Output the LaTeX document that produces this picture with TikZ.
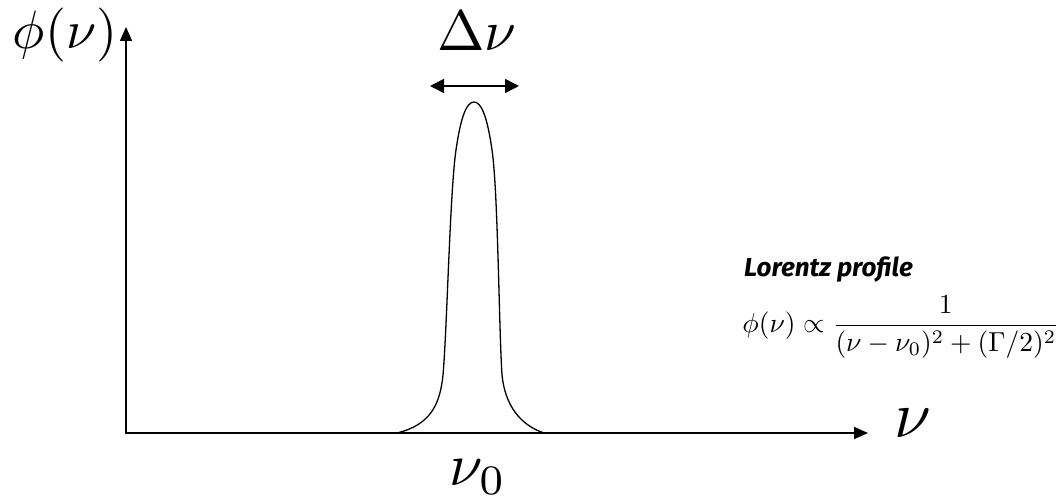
\documentclass[tikz,border=0pt]{standalone}
\usepackage{amsmath}
\usepackage{fontspec}
\newfontfamily\lorfont{Fira Sans}
\usetikzlibrary{arrows.meta}
\begin{document}
\begin{tikzpicture}[x=1pt,y=-1pt,
  axis/.style={line width=1.6pt,-{Triangle[length=14pt,width=12pt]}},
  curve/.style={line width=1.3pt},
  bigm/.style={inner sep=0pt,scale=6},
  formula/.style={inner sep=0pt,scale=2.75}]
\useasboundingbox (0,0) rectangle (1061,502);
\coordinate (O) at (126,433);
\coordinate (ytip) at (126,27);
\coordinate (xtip) at (868,433);
\draw[line width=1.6pt] (126,434) -- (O);
\draw[axis] (O) -- (ytip);
\draw[axis] (O) -- (xtip);
\draw[curve] (397,433) .. controls (430,425) and (440,405) .. (443,375)
  .. controls (447,330) and (450,190) .. (456,150)
  .. controls (461,115) and (467,102) .. (474,102)
  .. controls (481,102) and (487,115) .. (492,150)
  .. controls (498,190) and (499,330) .. (502,375)
  .. controls (505,405) and (520,425) .. (544,433);
\coordinate (al) at (430,86);
\coordinate (ar) at (519,86);
\draw[line width=1.6pt,{Triangle[length=14pt,width=14pt]}-{Triangle[length=14pt,width=14pt]}] (al) -- (ar);
\node[bigm,scale=0.9] (phi) at (65,35) {$\phi(\nu)$};
\node[bigm,scale=0.95] (dnu) at (477,31) {$\Delta\nu$};
\node[bigm,scale=1.1] (nux) at (913,423) {$\nu$};
\node[bigm] (nu0) at (478,477) {$\nu_0$};
\node[inner sep=0pt,anchor=west,font=\lorfont\bfseries\itshape\fontsize{26}{30}\selectfont] (lor) at (744,270) {Lorentz profile};
\node[formula,anchor=east] (form) at (1060,327) {$\phi(\nu)\propto\dfrac{1}{(\nu-\nu_0)^2+(\Gamma/2)^2}$};
\end{tikzpicture}
\end{document}
